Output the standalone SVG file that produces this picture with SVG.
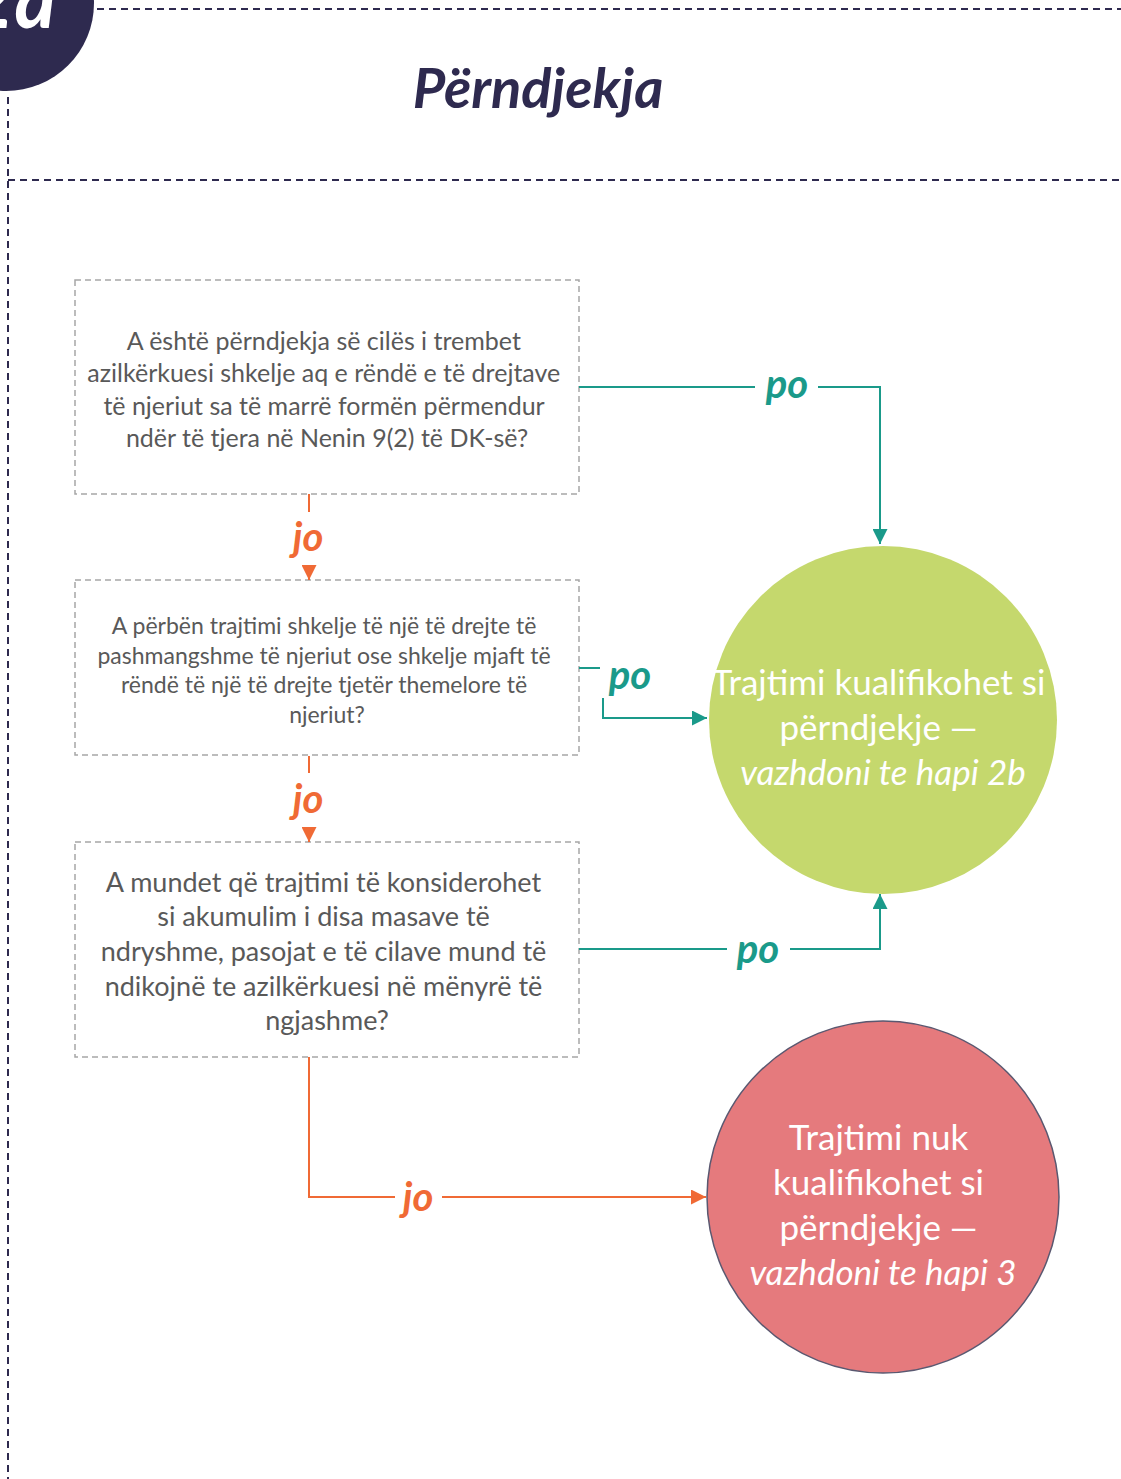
<svg xmlns="http://www.w3.org/2000/svg" width="1121" height="1479" viewBox="0 0 1121 1479">
  <defs>
    <style>
      .frame { fill: none; stroke: #2e2a4f; stroke-width: 2; stroke-dasharray: 7 5; }
      .box { fill: #ffffff; stroke: #a6a6a6; stroke-width: 1.5; stroke-dasharray: 6 4; }
      .q { font-family: Lato, "Open Sans", sans-serif; fill: #595959; text-anchor: middle; }
      .res { font-family: Lato, "Open Sans", sans-serif; fill: #ffffff; text-anchor: middle; font-size: 35px; }
      .teal { fill: none; stroke: #1a9a8a; stroke-width: 2; }
      .orange { fill: none; stroke: #f06a35; stroke-width: 2; }
      .lbl-po { font-family: Lato, "Open Sans", sans-serif; font-weight: bold; font-style: italic; font-size: 40px; fill: #1a9a8a; text-anchor: middle; }
      .lbl-jo { font-family: Lato, "Open Sans", sans-serif; font-weight: bold; font-style: italic; font-size: 40px; fill: #f06a35; text-anchor: middle; }
    </style>
    <marker id="arrTeal" viewBox="0 0 10 10" refX="10" refY="5" markerWidth="7.5" markerHeight="7.5" markerUnits="strokeWidth" orient="auto">
      <path d="M0,0 L10,5 L0,10 Z" fill="#1a9a8a"/>
    </marker>
    <marker id="arrOrange" viewBox="0 0 10 10" refX="10" refY="5" markerWidth="7.5" markerHeight="7.5" markerUnits="strokeWidth" orient="auto">
      <path d="M0,0 L10,5 L0,10 Z" fill="#f06a35"/>
    </marker>
  </defs>

  <rect width="1121" height="1479" fill="#ffffff"/>

  <!-- page frame and step badge -->
  <g id="header">
    <line class="frame" x1="97" y1="9" x2="1121" y2="9"/>
    <line class="frame" x1="8" y1="97" x2="8" y2="1479"/>
    <line class="frame" x1="8" y1="180" x2="1121" y2="180"/>
    <circle cx="6" cy="3" r="88" fill="#2e2a4f"/>
    <text x="-32" y="28" font-family="Lato, 'Open Sans', sans-serif" font-weight="bold" font-style="italic" font-size="80" fill="#ffffff">2a</text>
    <text x="538" y="108" text-anchor="middle" font-family="Lato, 'Open Sans', sans-serif" font-weight="bold" font-style="italic" font-size="56" fill="#2e2a4f">Përndjekja</text>
  </g>

  <!-- question boxes -->
  <g id="q1">
    <rect class="box" x="75" y="280" width="504" height="214"/>
    <text class="q" font-size="25">
      <tspan x="327" y="350">A është përndjekja së cilës i trembet</tspan>
      <tspan x="327" y="382">azilkërkuesi shkelje aq e rëndë e të drejtave</tspan>
      <tspan x="327" y="415">të njeriut sa të marrë formën përmendur</tspan>
      <tspan x="327" y="447">ndër të tjera në Nenin 9(2) të DK-së?</tspan>
    </text>
  </g>

  <g id="q2">
    <rect class="box" x="75" y="580" width="504" height="175"/>
    <text class="q" font-size="23">
      <tspan x="327" y="634">A përbën trajtimi shkelje të një të drejte të</tspan>
      <tspan x="327" y="664">pashmangshme të njeriut ose shkelje mjaft të</tspan>
      <tspan x="327" y="693">rëndë të një të drejte tjetër themelore të</tspan>
      <tspan x="327" y="723">njeriut?</tspan>
    </text>
  </g>

  <g id="q3">
    <rect class="box" x="75" y="842" width="504" height="215"/>
    <text class="q" font-size="27">
      <tspan x="327" y="892">A mundet që trajtimi të konsiderohet</tspan>
      <tspan x="327" y="926">si akumulim i disa masave të</tspan>
      <tspan x="327" y="961">ndryshme, pasojat e të cilave mund të</tspan>
      <tspan x="327" y="996">ndikojnë te azilkërkuesi në mënyrë të</tspan>
      <tspan x="327" y="1030">ngjashme?</tspan>
    </text>
  </g>

  <!-- outcomes -->
  <g id="outcome-yes">
    <circle cx="883" cy="720" r="174" fill="#c5d86d"/>
    <text class="res">
      <tspan x="883" y="695">Trajtimi kualifikohet si</tspan>
      <tspan x="883" y="740">përndjekje —</tspan>
      <tspan x="883" y="785" font-style="italic">vazhdoni te hapi 2b</tspan>
    </text>
  </g>

  <g id="outcome-no">
    <circle cx="883" cy="1197" r="176" fill="#e57a7d" stroke="#5a5870" stroke-width="1.5"/>
    <text class="res">
      <tspan x="883" y="1150">Trajtimi nuk</tspan>
      <tspan x="883" y="1195">kualifikohet si</tspan>
      <tspan x="883" y="1240">përndjekje —</tspan>
      <tspan x="883" y="1285" font-style="italic">vazhdoni te hapi 3</tspan>
    </text>
  </g>

  <!-- connectors -->
  <g id="connectors">
    <!-- q1 yes -->
    <line class="teal" x1="579" y1="387" x2="755" y2="387"/>
    <polyline class="teal" points="818,387 880,387 880,544" marker-end="url(#arrTeal)"/>
    <text class="lbl-po" x="787" y="398">po</text>
    <!-- q2 yes -->
    <line class="teal" x1="579" y1="668" x2="600" y2="668"/>
    <polyline class="teal" points="603,698 603,718 707,718" marker-end="url(#arrTeal)"/>
    <text class="lbl-po" x="630" y="689">po</text>
    <!-- q3 yes -->
    <line class="teal" x1="579" y1="949" x2="727" y2="949"/>
    <polyline class="teal" points="790,949 880,949 880,894" marker-end="url(#arrTeal)"/>
    <text class="lbl-po" x="758" y="963">po</text>
    <!-- q1 no -->
    <line class="orange" x1="309" y1="494" x2="309" y2="512"/>
    <line class="orange" x1="309" y1="566" x2="309" y2="580" marker-end="url(#arrOrange)"/>
    <text class="lbl-jo" x="308" y="551">jo</text>
    <!-- q2 no -->
    <line class="orange" x1="309" y1="756" x2="309" y2="773"/>
    <line class="orange" x1="309" y1="828" x2="309" y2="842" marker-end="url(#arrOrange)"/>
    <text class="lbl-jo" x="308" y="813">jo</text>
    <!-- q3 no -->
    <polyline class="orange" points="309,1057 309,1197 395,1197"/>
    <line class="orange" x1="442" y1="1197" x2="706" y2="1197" marker-end="url(#arrOrange)"/>
    <text class="lbl-jo" x="418" y="1211">jo</text>
  </g>
</svg>
